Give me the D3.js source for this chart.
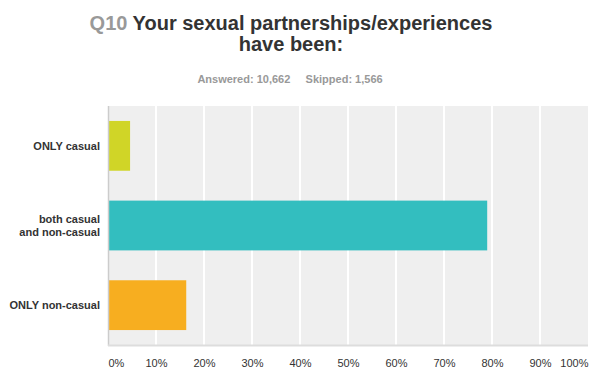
<!DOCTYPE html>
<html>
<head>
<meta charset="utf-8">
<script src="https://cdn.jsdelivr.net/npm/d3@7"></script>
<style>
  body { margin: 0; background: #fff; }
  svg { display: block; font-family: "Liberation Sans", Arial, sans-serif; }
</style>
</head>
<body>
<div id="chart"></div>
<script>
// Chart data
var categories = ["ONLY casual", "both casual\nand non-casual", "ONLY non-casual"];
var values = [4.6, 79.0, 16.3];
var barColors = ["#d0d527", "#33bebf", "#f7ae20"];
var tickValues = [0, 10, 20, 30, 40, 50, 60, 70, 80, 90, 100];

var svgWidth = 598;
var svgHeight = 390;

var margin = { top: 106, right: 10, bottom: 45, left: 108 };
var width = svgWidth - margin.left - margin.right;
var height = svgHeight - margin.top - margin.bottom;

var svg = d3.select("#chart")
  .append("svg")
  .attr("width", svgWidth)
  .attr("height", svgHeight);

// Title
var title = svg.append("text")
  .attr("text-anchor", "middle")
  .attr("font-weight", "bold")
  .attr("font-size", 20)
  .attr("fill", "#333");
title.append("tspan")
  .attr("x", 291).attr("y", 30)
  .attr("fill", "#999")
  .text("Q10 ");
title.append("tspan")
  .text("Your sexual partnerships/experiences");
title.append("tspan")
  .attr("x", 291).attr("y", 51)
  .text("have been:");

svg.append("text")
  .attr("x", 290).attr("y", 83)
  .attr("text-anchor", "middle")
  .attr("font-weight", "bold")
  .attr("font-size", 11)
  .attr("fill", "#999")
  .attr("xml:space", "preserve")
  .text("Answered: 10,662     Skipped: 1,566");

var chartGroup = svg.append("g")
  .attr("transform", `translate(${margin.left}, ${margin.top})`);

var xScale = d3.scaleLinear().domain([0, 100]).range([0, width]);
var yScale = d3.scaleBand()
  .domain(categories)
  .range([0, height])
  .paddingInner(0.375)
  .paddingOuter(0.1875);

// plot background
chartGroup.append("rect")
  .attr("width", width)
  .attr("height", height)
  .attr("fill", "#efefef");

// grid lines
chartGroup.selectAll(".grid")
  .data(tickValues.slice(1, -1))
  .enter()
  .append("line")
  .attr("x1", d => xScale(d)).attr("x2", d => xScale(d))
  .attr("y1", 0).attr("y2", height)
  .attr("stroke", "#fff")
  .attr("stroke-width", 2);

// bars
chartGroup.selectAll(".bar")
  .data(values)
  .enter()
  .append("rect")
  .attr("x", 0)
  .attr("y", (d, i) => yScale(categories[i]))
  .attr("width", d => xScale(d))
  .attr("height", yScale.bandwidth())
  .attr("fill", (d, i) => barColors[i]);

// axis lines
chartGroup.append("line")
  .attr("x1", 0.5).attr("x2", 0.5)
  .attr("y1", 0).attr("y2", height + 1)
  .attr("stroke", "#ccc")
  .attr("stroke-width", 1.5);
chartGroup.append("line")
  .attr("x1", 0).attr("x2", width)
  .attr("y1", height + 0.5).attr("y2", height + 0.5)
  .attr("stroke", "#ddd")
  .attr("stroke-width", 2);

// x axis tick labels
var xAxis = d3.axisBottom(xScale)
  .tickValues(tickValues)
  .tickSize(0)
  .tickPadding(0)
  .tickFormat(d => d + "%");
var xAxisG = chartGroup.append("g")
  .attr("transform", `translate(0, ${height})`)
  .call(xAxis);
xAxisG.select(".domain").remove();
xAxisG.selectAll("text")
  .attr("y", 22)
  .attr("dy", 0)
  .attr("font-size", 11)
  .attr("font-family", "Liberation Sans, Arial, sans-serif")
  .attr("fill", "#333")
  .attr("text-anchor", d => d === 0 ? "start" : d === 100 ? "end" : "middle");

// category labels
var yAxis = d3.axisLeft(yScale).tickSize(0).tickPadding(0).tickFormat("");
var yAxisG = chartGroup.append("g").call(yAxis);
yAxisG.select(".domain").remove();
yAxisG.selectAll(".tick").each(function(d) {
  var lines = d.split("\n");
  var t = d3.select(this).append("text")
    .attr("x", -8)
    .attr("text-anchor", "end")
    .attr("font-weight", "bold")
    .attr("font-size", 11)
    .attr("font-family", "Liberation Sans, Arial, sans-serif")
    .attr("fill", "#333");
  lines.forEach(function(line, i) {
    t.append("tspan")
      .attr("x", -8)
      .attr("y", 4 + (i - (lines.length - 1) / 2) * 13)
      .text(line);
  });
});
</script>
</body>
</html>
